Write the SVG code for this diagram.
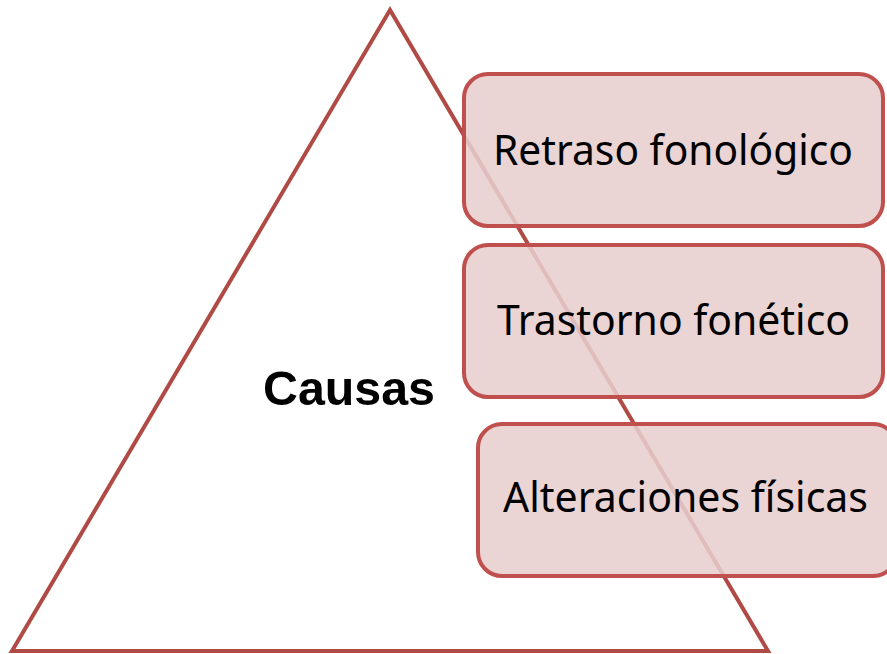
<svg xmlns="http://www.w3.org/2000/svg" width="887" height="654" viewBox="0 0 887 654">
<style>
.box{fill:#e7cece;fill-opacity:0.87;stroke:#c0504d;stroke-width:4}
.lbl{font-family:"Noto Sans","Open Sans",sans-serif;font-size:41px;fill:#000;text-anchor:middle}
.title{font-family:"Liberation Sans",Arial,sans-serif;font-weight:bold;font-size:48px;fill:#000;text-anchor:middle}
</style>
<rect width="887" height="654" fill="#fff"/>
<g id="triangle">
<path d="M390,10 L12,651 L768,651 Z" fill="none" stroke="#b04a45" stroke-width="4" stroke-linejoin="miter"/>
<text class="title" x="349" y="405" textLength="172" lengthAdjust="spacingAndGlyphs">Causas</text>
</g>
<g id="connectors"></g>
<g id="node1">
<rect class="box" x="464" y="74" width="419" height="152" rx="24"/>
<text class="lbl" x="673" y="165" textLength="360" lengthAdjust="spacingAndGlyphs">Retraso fonológico</text>
</g>
<g id="node2">
<rect class="box" x="464" y="245" width="419" height="152" rx="24"/>
<text class="lbl" x="673.5" y="335" textLength="353" lengthAdjust="spacingAndGlyphs">Trastorno fonético</text>
</g>
<g id="node3">
<rect class="box" x="478" y="424" width="419" height="152" rx="24"/>
<text class="lbl" x="685.5" y="512" textLength="365" lengthAdjust="spacingAndGlyphs">Alteraciones físicas</text>
</g>
</svg>
